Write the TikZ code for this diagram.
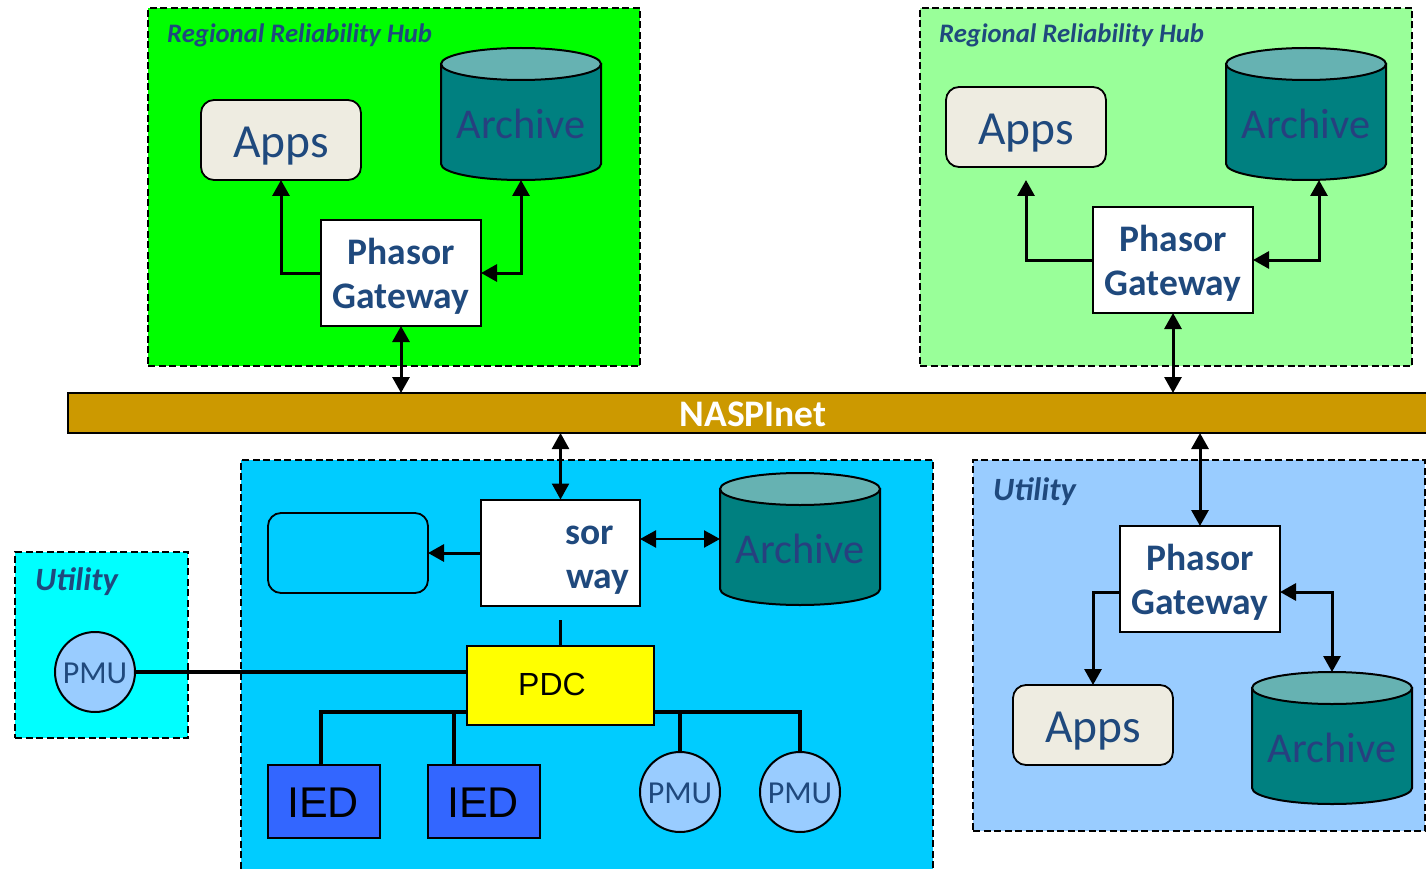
\documentclass[tikz,border=0pt]{standalone}
\usepackage{fontspec}
\setmainfont{Carlito}
\newfontfamily\arialf{Liberation Sans}
\usetikzlibrary{arrows.meta,positioning}
\definecolor{txt}{HTML}{1F497D}
\definecolor{arch}{HTML}{27407F}
\definecolor{teal1}{HTML}{008080}
\definecolor{teal2}{HTML}{66B2B2}
\definecolor{appsc}{HTML}{EEECE1}
\definecolor{iedc}{HTML}{3366FF}
\definecolor{pmuc}{HTML}{99CCFF}
\definecolor{netc}{HTML}{CC9900}
\definecolor{hubA}{HTML}{00FF00}
\definecolor{hubB}{HTML}{99FF99}
\definecolor{utilC}{HTML}{00CCFF}
\definecolor{utilE}{HTML}{00FFFF}
\definecolor{pdcc}{HTML}{FFFF00}
\newcommand{\fs}[1]{\fontsize{#1}{#1}\selectfont}
\tikzset{
  x=1pt,y=-1pt,
  region/.style={draw=black,dash pattern=on 7pt off 3.5pt,line width=1.8pt,anchor=north west,inner sep=0pt,outer sep=0pt},
  reglabel/.style={anchor=west,text=txt,font=\bfseries\itshape\fs{26.7},inner sep=0pt},
  ulabel/.style={reglabel,font=\bfseries\itshape\fs{32.5}},
  apps/.style={draw=black,line width=1.8pt,fill=appsc,rounded corners=13pt,minimum width=160pt,minimum height=80pt,inner sep=0pt,outer sep=0pt},
  appstext/.style={text=txt,font=\fs{47.5},inner sep=0pt},
  blankbox/.style={apps,fill=none},
  gateway/.style={draw=black,line width=2pt,fill=white,minimum width=160pt,minimum height=106pt,inner sep=0pt,outer sep=0pt},
  gwtext/.style={text=txt,font=\bfseries\fs{37.5},inner sep=0pt},
  pmu/.style={circle,draw=black,line width=2pt,fill=pmuc,minimum size=80pt,inner sep=0pt,outer sep=0pt,text=txt,font=\fs{32}},
  ied/.style={draw=black,line width=2pt,fill=iedc,minimum width=112pt,minimum height=73pt,inner sep=0pt,outer sep=0pt},
  iedtext/.style={font=\arialf\fs{43},inner sep=0pt},
  archbox/.style={minimum width=160pt,minimum height=132pt,inner sep=0pt,outer sep=0pt},
  link/.style={line width=3pt},
  thin link/.style={line width=2.4pt},
  heavy/.style={line width=4pt},
  both/.style={{Triangle[length=16pt,width=17pt]}-{Triangle[length=16pt,width=17pt]}},
  one/.style={-{Triangle[length=16pt,width=17pt]}},
}
% name, centre x, centre y
\newcommand{\archive}[3]{%
  \path[draw=black,line width=2pt,fill=teal1]
    (#2-80,#3-50) -- (#2-80,#3+50) arc[start angle=180,end angle=360,x radius=80pt,y radius=16pt]
    -- (#2+80,#3-50) -- cycle;
  \path[draw=black,line width=2pt,fill=teal2] (#2,#3-50) ellipse[x radius=80pt,y radius=16pt];
  \node[archbox] (#1) at (#2,#3) {};
  \node[text=arch,font=\fs{42.4},inner sep=0pt] (#1t) at (#2,#3+10) {Archive};
}
% name, centre x, centre y
\newcommand{\gwlabel}[3]{%
  \node[gwtext,anchor=base] (#1p) at (#2,#3-9) {Phasor};
  \node[gwtext,anchor=base] (#1g) at (#2,#3+35) {Gateway};
}
\begin{document}
\begin{tikzpicture}
\useasboundingbox (0,0) rectangle (1426,869);
\clip (0,0) rectangle (1426,869);
% regions
\node[region,fill=hubA,minimum width=492pt,minimum height=358pt] (regA) at (148,8) {};
\node[region,fill=hubB,minimum width=492pt,minimum height=358pt] (regB) at (920,8) {};
\node[region,fill=utilC,minimum width=692pt,minimum height=430pt] (regC) at (241,460) {};
\node[region,fill=pmuc,minimum width=452pt,minimum height=371pt] (regD) at (973,460) {};
\node[region,fill=utilE,minimum width=173pt,minimum height=186pt] (regE) at (15,552) {};
\node[reglabel] (lA) at (167,35) {Regional Reliability Hub};
\node[reglabel] (lB) at (939,35) {Regional Reliability Hub};
\node[ulabel] (lD) at (993,492) {Utility};
\node[ulabel] (lE) at (35,582) {Utility};
% bus
\node[draw=black,line width=2pt,fill=netc,anchor=north west,minimum width=1400pt,minimum height=40pt,inner sep=0pt,outer sep=0pt] (net) at (68,393) {};
\node[text=white,font=\bfseries\fs{37.5},inner sep=0pt] (netl) at (753,414) {NASPInet};
% hub A
\node[apps] (appsA) at (281,140) {};
\node[appstext] (appsAt) at (281,146) {Apps};
\archive{archA}{521}{114}
\node[gateway] (gwA) at (401,273) {};
\gwlabel{gwA}{401}{273}
% hub B
\node[apps] (appsB) at (1026,127) {};
\node[appstext] (appsBt) at (1026,133) {Apps};
\archive{archB}{1306}{114}
\node[gateway] (gwB) at (1173,260) {};
\gwlabel{gwB}{1173}{260}
% utility C
\node[blankbox] (appsC) at (348,553) {};
\archive{archC}{800}{539}
\node[gateway,minimum width=159pt] (gwC) at (560.5,552.5) {};
\node[gwtext,anchor=base west] (sor) at (565,544) {sor};
\node[gwtext,anchor=base west] (way) at (566,588) {way};
\node[draw=black,line width=2pt,fill=pdcc,minimum width=187pt,minimum height=79pt,inner sep=0pt,outer sep=0pt] (pdc) at (560.5,685.5) {};
\node[font=\arialf\fs{32},inner sep=0pt] (pdcl) at (552,684) {PDC};
\node[ied] (iedA) at (324,801.5) {};
\node[ied] (iedB) at (484,801.5) {};
\node[iedtext] (iedAl) at (323,802.5) {IED};
\node[iedtext] (iedBl) at (483,802.5) {IED};
\node[pmu] (pmuA) at (680,792) {}; \node[text=txt,font=\fs{32},inner sep=0pt] (pmuAl) at (680,793) {PMU};
\node[pmu] (pmuB) at (800,792) {}; \node[text=txt,font=\fs{32},inner sep=0pt] (pmuBl) at (800,793) {PMU};
\node[pmu] (pmuC) at (95,672) {}; \node[text=txt,font=\fs{32},inner sep=0pt] (pmuCl) at (95,673) {PMU};
% utility D
\node[gateway] (gwD) at (1200,579) {};
\gwlabel{gwD}{1200}{579}
\node[apps] (appsD) at (1093,725) {};
\node[appstext] (appsDt) at (1093,731) {Apps};
\archive{archD}{1332}{738}
% connectors hub A
\draw[link,one] (gwA.west) -- (281,273) -- (appsA.south);
\draw[link,both] (gwA.east) -- (521,273) -- (archA.south -| 521,180);
\draw[link,both] (gwA.south) -- (gwA.south |- net.north);
% hub B
\coordinate (freeB) at (1026,180);
\draw[link,one] (gwB.west) -- (1026,260) -- (freeB);
\draw[link,both] (gwB.east) -- (1319,260) -- (1319,180);
\draw[link,both] (gwB.south) -- (gwB.south |- net.north);
% utility C
\draw[thin link,both] (gwC.north) -- (gwC.north |- net.south);
\draw[link,one] (gwC.west |- appsC.east) -- (appsC.east);
\draw[thin link,both] (640,539) -- (archC.west);
\coordinate (stub) at (560.5,620);
\draw[thin link] (stub) -- (pdc.north);
\draw[heavy] (pmuC.east) -- (pmuC.east -| pdc.west);
\draw[heavy] (467,712) -- (321,712) -- (321,765);
\draw[heavy] (454,712) -- (454,765);
\draw[heavy] (654,712) -- (800,712) -- (pmuB.north);
\draw[heavy] (680,712) -- (pmuA.north);
% utility D
\draw[link,both] (gwD.north) -- (gwD.north |- net.south);
\draw[link,one] (gwD.west |- 0,592) -- (1093,592) -- (appsD.north);
\draw[link,both] (gwD.east |- 0,592) -- (1332,592) -- (1332,672);
\end{tikzpicture}
\end{document}
